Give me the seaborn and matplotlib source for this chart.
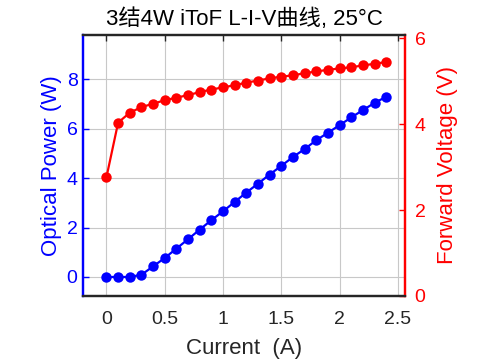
import matplotlib
matplotlib.use('Agg')
import matplotlib.pyplot as plt
import seaborn as sns
import pandas as pd

# data
current = [0.0, 0.1, 0.2, 0.3, 0.4, 0.5, 0.6, 0.7, 0.8, 0.9, 1.0, 1.1, 1.2,
           1.3, 1.4, 1.5, 1.6, 1.7, 1.8, 1.9, 2.0, 2.1, 2.2, 2.3, 2.4]
power = [0.0, 0.0, 0.0, 0.09, 0.43, 0.77, 1.15, 1.53, 1.92, 2.30, 2.66, 3.04, 3.42,
         3.78, 4.15, 4.50, 4.86, 5.18, 5.54, 5.84, 6.15, 6.46, 6.76, 7.05, 7.30]
voltage = [2.77, 4.04, 4.27, 4.40, 4.48, 4.56, 4.62, 4.68, 4.75, 4.81, 4.86, 4.91, 4.97,
           5.02, 5.07, 5.11, 5.14, 5.19, 5.23, 5.27, 5.30, 5.33, 5.37, 5.41, 5.45]
x_ticks = [0, 0.5, 1, 1.5, 2, 2.5]
x_tick_labels = ['0', '0.5', '1', '1.5', '2', '2.5']
p_ticks = [0, 2, 4, 6, 8]
v_ticks = [0, 2, 4, 6]

df = pd.DataFrame({'Current': current, 'Power': power, 'Voltage': voltage})

sns.set_style('white')
plt.rcParams['font.family'] = ['Liberation Sans', 'Noto Sans CJK SC', 'DejaVu Sans']

fig = plt.figure(figsize=(4.78, 3.59), dpi=100)
ax = fig.add_axes([0.174, 0.1755, 0.673, 0.727])
ax2 = ax.twinx()

sns.lineplot(data=df, x='Current', y='Power', ax=ax, color='blue', marker='o',
             markersize=7.5, markeredgewidth=0, linewidth=1.6, zorder=3)
sns.lineplot(data=df, x='Current', y='Voltage', ax=ax2, color='red', marker='o',
             markersize=7.5, markeredgewidth=0, linewidth=1.6, zorder=3)

ax.set_xlim(-0.2, 2.56)
ax.set_ylim(-0.77, 9.8)
ax2.set_ylim(0, 6.08)
ax.set_xticks(x_ticks)
ax.set_xticklabels(x_tick_labels)
ax.set_yticks(p_ticks)
ax2.set_yticks(v_ticks)

ax.grid(True, color='#c8c8c8', linewidth=0.8)
ax.set_axisbelow(True)

ax.set_xlabel('Current  (A)', fontsize=16, color='#262626', labelpad=7)
ax.set_ylabel('Optical Power (W)', fontsize=16, color='blue', labelpad=3)
ax2.set_ylabel('Forward Voltage (V)', fontsize=16, color='red', labelpad=8)
ax.set_title('3结4W iToF L-I-V曲线, 25°C', fontsize=16, color='black', pad=7)

ax.tick_params(axis='x', direction='in', top=True, length=4, width=1,
               labelsize=14, colors='#262626', pad=11)
ax.tick_params(axis='y', direction='in', length=4, width=1,
               labelsize=14, colors='blue', pad=4)
ax2.tick_params(axis='y', direction='in', length=4, width=1,
                labelsize=14, colors='red', pad=7)

for a in (ax, ax2):
    a.spines['top'].set_color('#262626')
    a.spines['bottom'].set_color('#262626')
    a.spines['left'].set_color('blue')
    a.spines['right'].set_color('red')
    for s in a.spines.values():
        s.set_linewidth(1.6)

fig.savefig('out.png', dpi=100)
